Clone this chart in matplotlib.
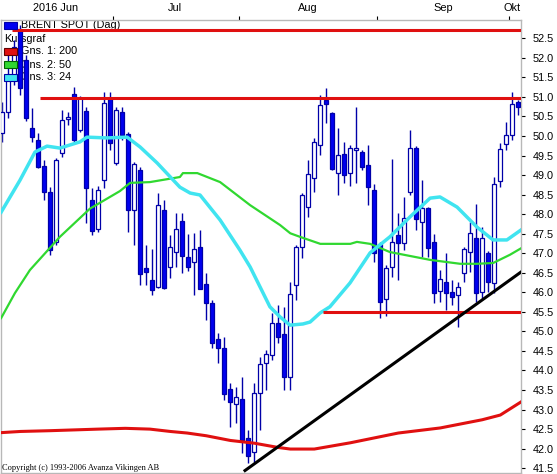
#!/usr/bin/env python
"""Brent spot daily candlestick chart with moving averages and trend lines."""

import matplotlib

matplotlib.use("Agg")
import matplotlib.pyplot as plt
from matplotlib.patches import Rectangle
import numpy as np

# daily candles (USD per barrel)
opens = [50.08, 50.61, 51.43, 52.74, 51.94, 50.20, 49.90, 49.23, 48.57, 47.29,
         49.56, 50.43, 51.07, 50.15, 50.64, 48.36, 47.62, 48.87, 50.97, 49.31,
         50.61, 50.05, 48.11, 49.13, 46.62, 46.32, 46.14, 48.11, 46.65, 47.03,
         47.83, 46.90, 46.78, 47.16, 46.21, 45.73, 44.81, 44.58, 43.53, 43.15,
         43.27, 42.28, 41.92, 43.43, 44.19, 44.40, 45.22, 44.94, 43.84, 46.19,
         47.16, 48.18, 48.93, 49.77, 50.92, 50.59, 49.05, 49.54, 49.05, 49.64,
         49.59, 49.26, 48.62, 47.24, 45.83, 46.65, 47.47, 47.26, 48.57, 49.69,
         47.80, 48.16, 47.29, 46.04, 46.26, 46.01, 45.93, 46.50, 47.03, 47.39,
         46.01, 47.01, 46.24, 48.85, 49.79, 50.02, 50.87]
highs = [50.87, 52.20, 52.45, 52.84, 52.07, 50.72, 50.08, 49.39, 48.69, 49.44,
         50.66, 50.61, 51.25, 51.02, 50.74, 48.67, 48.72, 51.12, 51.12, 50.74,
         50.74, 50.10, 49.33, 49.20, 47.21, 47.11, 48.54, 48.36, 47.47, 48.03,
         48.03, 47.49, 47.52, 47.60, 46.50, 45.80, 44.96, 44.86, 43.68, 43.58,
         43.84, 42.48, 43.68, 44.35, 44.53, 45.47, 45.68, 45.63, 46.26, 47.21,
         48.55, 49.39, 49.95, 51.05, 51.23, 50.61, 50.20, 49.85, 49.77, 50.74,
         49.64, 49.77, 48.77, 47.30, 46.70, 49.41, 48.03, 48.44, 50.15, 49.75,
         48.87, 48.18, 47.49, 46.57, 47.01, 46.32, 46.26, 47.16, 47.80, 48.26,
         47.67, 47.05, 48.95, 49.82, 50.36, 51.12, 50.92]
lows = [49.85, 50.46, 51.30, 51.05, 50.38, 49.85, 49.18, 48.36, 46.96, 47.21,
        49.46, 50.28, 49.85, 50.10, 47.77, 47.47, 47.54, 48.67, 49.64, 49.26,
        49.90, 47.54, 47.21, 46.19, 46.19, 45.93, 46.11, 46.09, 46.37, 46.65,
        46.50, 46.55, 45.93, 46.09, 45.29, 44.58, 44.19, 43.25, 42.56, 42.66,
        41.89, 41.64, 41.66, 42.48, 43.50, 44.27, 44.71, 43.50, 43.50, 45.80,
        46.88, 47.93, 48.57, 49.51, 50.33, 49.13, 48.49, 48.80, 48.72, 48.80,
        49.13, 48.23, 46.78, 45.34, 45.40, 46.39, 46.32, 47.08, 48.49, 47.60,
        46.90, 46.90, 45.73, 45.75, 45.55, 45.68, 45.11, 46.26, 46.52, 45.75,
        45.80, 46.01, 45.98, 48.69, 49.64, 49.90, 50.54]
closes = [50.61, 51.48, 52.28, 51.23, 50.46, 49.97, 49.21, 48.57, 47.08, 49.39,
          50.41, 50.49, 49.90, 50.97, 48.67, 47.57, 48.62, 50.84, 49.82, 50.66,
          50.02, 48.11, 49.28, 46.47, 46.52, 46.06, 48.23, 46.11, 47.16, 47.62,
          46.93, 46.65, 47.11, 46.09, 45.73, 44.71, 44.58, 43.40, 43.20, 43.32,
          42.22, 41.82, 43.43, 44.17, 44.42, 45.22, 44.86, 43.84, 45.96, 47.16,
          48.49, 49.03, 49.85, 50.79, 50.82, 49.16, 49.51, 49.00, 49.69, 49.69,
          49.21, 48.69, 47.01, 45.75, 46.62, 47.29, 47.26, 47.90, 49.69, 47.88,
          48.16, 47.13, 45.98, 46.34, 45.98, 45.88, 46.14, 47.11, 47.52, 45.98,
          47.39, 46.26, 48.77, 49.67, 50.02, 50.82, 50.74]

# moving averages, sampled along the chart (x in candle index units)
ma200_x = [-0.2, 3, 8, 12, 16, 20.5, 24.6, 28, 30.8, 34, 38, 42, 46, 48, 52,
           55, 58, 66, 73, 80, 83, 86.5]
ma200_y = [42.41, 42.44, 42.46, 42.48, 42.50, 42.52, 42.50, 42.44, 42.40, 42.33,
           42.21, 42.14, 42.03, 41.99, 41.99, 42.07, 42.15, 42.40, 42.53, 42.74,
           42.86, 43.20]
ma50_x = [-0.2, 2.1, 4.6, 9.6, 14.6, 19.6, 21.3, 24.6, 29.6, 30.1, 32.5, 36.3,
          41.3, 46.3, 48.0, 49.6, 53, 58, 59.1, 61.3, 64.6, 71.3, 76.3, 79.1,
          81.8, 84.6, 86.5]
ma50_y = [45.34, 45.98, 46.57, 47.42, 48.14, 48.59, 48.80, 48.82, 48.95, 49.05,
          49.05, 48.82, 48.23, 47.72, 47.51, 47.42, 47.24, 47.24, 47.29, 47.24,
          47.03, 46.83, 46.73, 46.73, 46.75, 46.96, 47.13]
ma24_x = [-0.2, 2.95, 5.45, 7.45, 9.6, 12.95, 14.1, 17.45, 20.8, 22.95, 25.8,
          29.6, 31.3, 32.95, 36.3, 39.6, 41.3, 42.95, 44.6, 46.3, 47.95, 50.1,
          51.3, 52.95, 54.6, 57.95, 61.3, 64.6, 67.95, 71.3, 72.95, 75.8, 79.1,
          81.8, 84.1, 86.5]
ma24_y = [48.05, 48.87, 49.59, 49.74, 49.69, 49.85, 49.97, 49.95, 49.97, 49.72,
          49.31, 48.69, 48.54, 48.49, 47.85, 47.08, 46.65, 46.14, 45.63, 45.37,
          45.16, 45.19, 45.24, 45.47, 45.63, 46.24, 47.01, 47.42, 47.93, 48.41,
          48.44, 48.18, 47.67, 47.34, 47.34, 47.60]

# drawn support / resistance levels: (start index, price)
resistance_top = (1.55, 52.71)
resistance_mid = (6.3, 50.98)
support_low = (53.45, 45.50)
trend_x = [40.45, 86.55]
trend_y = [41.44, 46.53]

month_labels = ["2016 Jun", "Jul", "Aug", "Sep", "Okt"]
month_label_pos = [8.8, 28.8, 50.9, 73.45, 84.95]
month_tick_pos = [18.45, 39.45, 62.45, 84.45]
price_ticks = np.arange(41.5, 52.51, 0.5)

legend_series = ["Gns. 1: 200", "Gns. 2: 50", "Gns. 3: 24"]

BLUE = "#0000f0"
NAVY = "#0000a8"
RED = "#e01010"
GREEN = "#30d830"
CYAN = "#40e4f0"

W_PX, H_PX = 557, 474
AX_L, AX_R, AX_T, AX_B = 1.0, 521.0, 19.5, 472.5
FONT = "Liberation Sans"


def ax_frac(x_px, y_px):
    """Convert image pixel coordinates into axes fractions."""
    return (x_px - AX_L) / (AX_R - AX_L), (AX_B - y_px) / (AX_B - AX_T)


def draw_candles(ax):
    idx = np.arange(len(opens))
    o = np.array(opens)
    c = np.array(closes)
    ax.vlines(idx, lows, highs, color=NAVY, linewidth=1.0, zorder=2)
    up = c >= o
    faces = np.where(up, "white", BLUE)
    heights = c - o
    heights = np.where(np.abs(heights) < 0.04, np.sign(heights + 1e-9) * 0.04, heights)
    ax.bar(idx, heights, bottom=o, width=0.72, color=faces, edgecolor=NAVY,
           linewidth=0.9, zorder=3)


def draw_legend(ax):
    items = [
        ("BRENT SPOT (Dag)", 25.5, BLUE, NAVY),
        ("Kursgraf", 39.0, None, None),
        (legend_series[0], 51.5, RED, "#600000"),
        (legend_series[1], 64.5, GREEN, "#006000"),
        (legend_series[2], 77.5, CYAN, NAVY),
    ]
    for label, y_c, face, edge in items:
        if face is None:
            x, y = ax_frac(4, y_c)
        else:
            # icons sit above the candles, the text underneath them
            x0, y0 = ax_frac(4, y_c + 3.5)
            x1, y1 = ax_frac(17, y_c - 3.5)
            ax.add_patch(Rectangle((x0, y0), x1 - x0, y1 - y0, transform=ax.transAxes,
                                   facecolor=face, edgecolor=edge, linewidth=0.8,
                                   zorder=6))
            x, y = ax_frac(21, y_c)
        ax.text(x, y, label, transform=ax.transAxes, fontsize=7.8, family=FONT,
                va="center", ha="left", color="black", zorder=1)


def main():
    fig = plt.figure(figsize=(W_PX / 100, H_PX / 100), dpi=100)
    ax = fig.add_axes([AX_L / W_PX, 1 - AX_B / H_PX, (AX_R - AX_L) / W_PX,
                       (AX_B - AX_T) / H_PX])

    draw_legend(ax)
    draw_candles(ax)

    ax.plot(ma200_x, ma200_y, color=RED, linewidth=2.2, zorder=4)
    ax.plot(ma50_x, ma50_y, color=GREEN, linewidth=1.6, zorder=4)
    ax.plot(ma24_x, ma24_y, color=CYAN, linewidth=2.5, zorder=4)

    right_edge = 86.6
    for start, level in (resistance_top, resistance_mid, support_low):
        ax.plot([start, right_edge], [level, level], color=RED, linewidth=2.2,
                zorder=5, solid_capstyle="butt")
    ax.plot(trend_x, trend_y, color="black", linewidth=2.2, zorder=5)

    ax.set_xlim(-0.22, 86.45)
    ax.set_ylim(41.39, 52.98)

    ax.yaxis.tick_right()
    ax.set_yticks(price_ticks)
    ax.set_yticklabels([f"{v:.1f}" for v in price_ticks], fontsize=7.8, family=FONT)
    ax.tick_params(axis="y", direction="out", length=3.2, width=0.8, pad=5,
                   colors="black")

    ax.xaxis.tick_top()
    ax.set_xticks(month_tick_pos)
    ax.set_xticklabels([])
    ax.tick_params(axis="x", direction="out", length=3.2, width=0.8, colors="black")
    for label, pos in zip(month_labels, month_label_pos):
        ax.text(pos, ax_frac(0, 7.5)[1], label, transform=ax.get_xaxis_transform(),
                ha="center", va="center", fontsize=7.9, family=FONT, clip_on=False)

    for spine in ax.spines.values():
        spine.set_color("#b8b8b8")
        spine.set_linewidth(1.0)

    cx, cy = ax_frac(2.5, 467.5)
    ax.text(cx, cy, "Copyright (c) 1993-2006 Avanza Vikingen AB", transform=ax.transAxes,
            fontsize=6.0, family="Liberation Serif", ha="left", va="center", zorder=6)

    fig.savefig("out.png", dpi=100)
    plt.close(fig)


if __name__ == "__main__":
    main()
